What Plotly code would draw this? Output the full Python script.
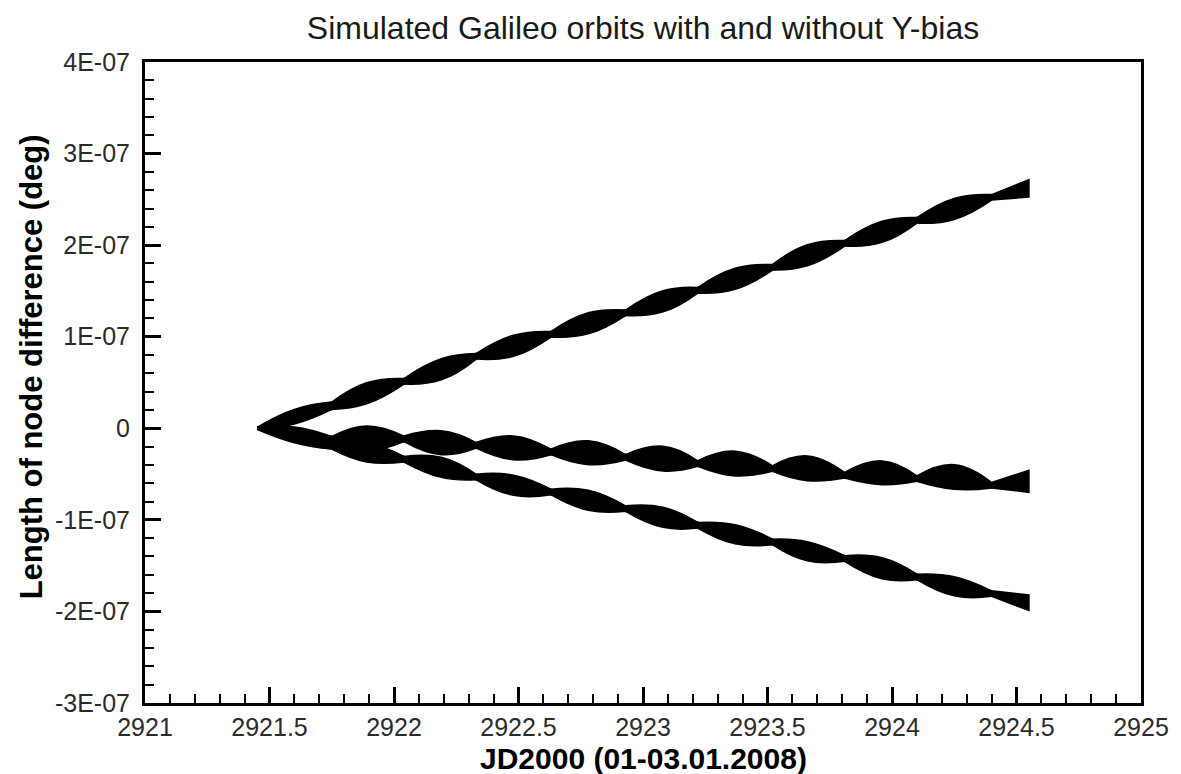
import plotly.graph_objects as go

# Julian date (JD2000) sample points along the orbit arcs: nodes (even index),
# bulge centres (odd index), last entry is the end of the arc
jd = [2921.45, 2921.60, 2921.75, 2921.89, 2922.04, 2922.19, 2922.33, 2922.48,
      2922.63, 2922.78, 2922.93, 2923.08, 2923.22, 2923.37, 2923.52, 2923.66,
      2923.81, 2923.96, 2924.10, 2924.25, 2924.40, 2924.55]

UNIT = 1e-7  # band values below are given in units of 1E-07 deg

# Upper band: centre of the ribbon and its half thickness
upper_mid = [0.0, 0.126, 0.246, 0.382, 0.513, 0.644, 0.786, 0.901, 1.026, 1.146,
             1.261, 1.386, 1.507, 1.632, 1.758, 1.889, 2.020, 2.145, 2.271, 2.396,
             2.522, 2.620]
upper_half = [0.01, 0.08, 0.04, 0.115, 0.03, 0.115, 0.03, 0.115, 0.03, 0.115, 0.03,
              0.115, 0.03, 0.115, 0.03, 0.115, 0.03, 0.115, 0.03, 0.115, 0.03, 0.095]

# Middle band (Y-bias orbit)
middle_mid = [0.0, -0.055, -0.120, -0.109, -0.115, -0.158, -0.186, -0.213, -0.258,
              -0.267, -0.317, -0.331, -0.385, -0.385, -0.440, -0.437, -0.513,
              -0.486, -0.549, -0.532, -0.622, -0.579]
middle_half = [0.01, 0.07, 0.03, 0.135, 0.03, 0.13, 0.03, 0.13, 0.03, 0.13, 0.03,
               0.135, 0.03, 0.135, 0.03, 0.135, 0.03, 0.13, 0.03, 0.135, 0.03, 0.12]

# Lower band
lower_mid = [0.0, -0.087, -0.197, -0.262, -0.338, -0.426, -0.532, -0.622, -0.695,
             -0.786, -0.877, -0.972, -1.059, -1.157, -1.241, -1.343, -1.422,
             -1.528, -1.623, -1.725, -1.805, -1.905]
lower_half = [0.01, 0.07, 0.03, 0.105, 0.03, 0.11, 0.03, 0.11, 0.03, 0.11, 0.03,
              0.11, 0.03, 0.105, 0.03, 0.105, 0.03, 0.115, 0.03, 0.105, 0.03, 0.085]

x_tickvals = [2921, 2921.5, 2922, 2922.5, 2923, 2923.5, 2924, 2924.5, 2925]
x_ticktext = ["2921", "2921.5", "2922", "2922.5", "2923", "2923.5", "2924",
              "2924.5", "2925"]
y_tickvals = [-3e-7, -2e-7, -1e-7, 0, 1e-7, 2e-7, 3e-7, 4e-7]
y_ticktext = ["-3E-07", "-2E-07", "-1E-07", "0", "1E-07", "2E-07", "3E-07", "4E-07"]

TITLE = "Simulated Galileo orbits with and without Y-bias"
X_TITLE = "JD2000 (01-03.01.2008)"
Y_TITLE = "Length of node difference (deg)"

FONT = "Liberation Sans, Arial, sans-serif"


def band_shapes(mid, half):
    """Outline pieces of one twisted ribbon.

    Returns (arcs_x, arcs_y) for the curved bulges above and below each
    segment between nodes, and (core_x, core_y) for the straight core strip
    that joins the node waists.
    """
    top = [(m + h) * UNIT for m, h in zip(mid, half)]
    bot = [(m - h) * UNIT for m, h in zip(mid, half)]
    n = len(jd)
    nodes = list(range(0, n - 1, 2)) + [n - 1]

    arcs_x, arcs_y = [], []
    for a, b in zip(nodes[:-1], nodes[1:]):
        idx = list(range(a, b + 1))
        if len(idx) < 3:
            continue
        arcs_x += [jd[k] for k in idx] + [None]
        arcs_y += [top[k] for k in idx] + [None]
        arcs_x += [jd[k] for k in idx] + [None]
        arcs_y += [bot[k] for k in idx] + [None]

    core_x = [jd[k] for k in nodes] + [jd[k] for k in reversed(nodes)]
    core_y = [top[k] for k in nodes] + [bot[k] for k in reversed(nodes)]
    return arcs_x, arcs_y, core_x, core_y


fig = go.Figure()
for mid, half in [(upper_mid, upper_half), (middle_mid, middle_half),
                  (lower_mid, lower_half)]:
    ax, ay, cx, cy = band_shapes(mid, half)
    fig.add_trace(go.Scatter(
        x=ax, y=ay, mode="lines", fill="toself", fillcolor="black",
        line=dict(color="black", width=1.5, shape="spline", smoothing=1.3),
        showlegend=False, hoverinfo="skip"))
    fig.add_trace(go.Scatter(
        x=cx, y=cy, mode="lines", fill="toself", fillcolor="black",
        line=dict(color="black", width=1.5),
        showlegend=False, hoverinfo="skip"))

tick_font = dict(family=FONT, size=25, color="#2b2b2b")

fig.update_xaxes(
    range=[2921, 2925], tickmode="array", tickvals=x_tickvals, ticktext=x_ticktext,
    ticks="inside", ticklen=16, tickwidth=2.5, tickcolor="black",
    minor=dict(tickmode="linear", tick0=2921, dtick=0.1, ticks="inside",
               ticklen=9, tickwidth=2, tickcolor="black"),
    showline=True, linewidth=3, linecolor="black", mirror=True,
    showgrid=False, zeroline=False, tickfont=tick_font, ticklabelstandoff=0)

fig.update_yaxes(
    range=[-3e-7, 4e-7], tickmode="array", tickvals=y_tickvals, ticktext=y_ticktext,
    ticks="inside", ticklen=16, tickwidth=2.5, tickcolor="black",
    minor=dict(tickmode="linear", tick0=0, dtick=2e-8, ticks="inside",
               ticklen=9, tickwidth=2, tickcolor="black"),
    showline=True, linewidth=3, linecolor="black", mirror=True,
    showgrid=False, zeroline=False, tickfont=tick_font, ticklabelstandoff=7)

fig.update_layout(
    width=1181, height=774,
    margin=dict(l=145, r=28, t=62, b=71),
    paper_bgcolor="white", plot_bgcolor="white",
    title=dict(text=TITLE, x=0.5, xref="paper", xanchor="center",
               y=1 - 28 / 774, yref="container", yanchor="middle",
               font=dict(family=FONT, size=32, color="#1a1a1a")),
    annotations=[
        dict(text="<b>" + X_TITLE + "</b>", xref="paper", yref="paper",
             x=0.5, y=-55 / 641, xanchor="center", yanchor="middle",
             showarrow=False, font=dict(family=FONT, size=30, color="black")),
        dict(text="<b>" + Y_TITLE + "</b>", xref="paper", yref="paper",
             x=-115 / 1008, y=(703 - 367) / 641, xanchor="center",
             yanchor="middle", textangle=-90, showarrow=False,
             font=dict(family=FONT, size=31, color="black")),
    ],
)

fig.write_html("out.html")
